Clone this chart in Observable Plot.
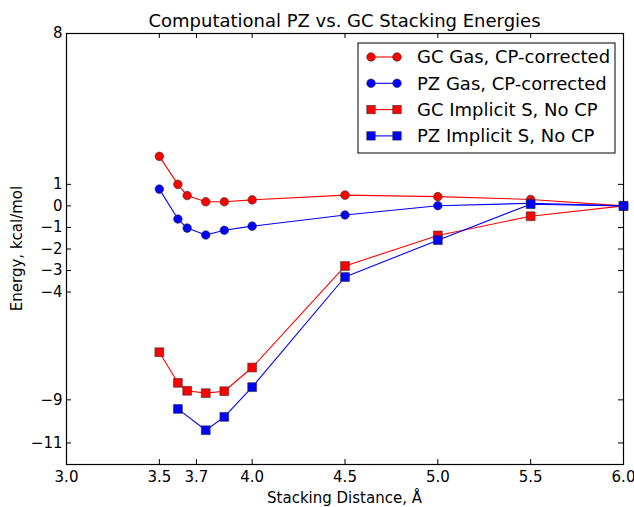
<!DOCTYPE html>
<html><head><meta charset="utf-8">
<script src="https://cdn.jsdelivr.net/npm/d3@7"></script>
<script src="https://cdn.jsdelivr.net/npm/@observablehq/plot@0.6"></script>
<style>body{margin:0;background:#fff;} svg{font-family:"DejaVu Sans",sans-serif;}</style>
</head><body><div id="chart"></div>
<script>
const title = "Computational PZ vs. GC Stacking Energies";
const xLabel = "Stacking Distance, Å";
const yLabel = "Energy, kcal/mol";
const xTicks = [3.0, 3.5, 3.7, 4.0, 4.5, 5.0, 5.5, 6.0];
const yTicks = [8, 1, 0, -1, -2, -3, -4, -9, -11];
const seriesNames = ["GC Gas, CP-corrected", "PZ Gas, CP-corrected", "GC Implicit S, No CP", "PZ Implicit S, No CP"];
const seriesColors = ["#ff0000", "#0000ff", "#ff0000", "#0000ff"];
const seriesSymbols = ["circle", "circle", "square", "square"];
const gasX = [3.5, 3.6, 3.65, 3.75, 3.85, 4.0, 4.5, 5.0, 5.5, 6.0];
const gcGasY = [2.3, 1.0, 0.48, 0.19, 0.19, 0.28, 0.5, 0.43, 0.3, 0];
const pzGasY = [0.78, -0.61, -1.03, -1.35, -1.13, -0.94, -0.42, 0.01, 0.12, 0];
const gcImpX = [3.5, 3.6, 3.65, 3.75, 3.85, 4.0, 4.5, 5.0, 5.5, 6.0];
const gcImpY = [-6.79, -8.21, -8.58, -8.69, -8.6, -7.5, -2.79, -1.37, -0.48, 0];
const pzImpX = [3.6, 3.75, 3.85, 4.0, 4.5, 5.0, 5.5, 6.0];
const pzImpY = [-9.42, -10.41, -9.79, -8.41, -3.3, -1.59, 0.08, 0];

const seriesXs = [gasX, gasX, gcImpX, pzImpX];
const seriesYs = [gcGasY, pzGasY, gcImpY, pzImpY];
const series = seriesNames.map((name, i) => ({
  name, color: seriesColors[i], symbol: seriesSymbols[i],
  data: seriesXs[i].map((x, j) => ({x, y: seriesYs[i][j]}))
}));

const W = 634, H = 507;
const mL = 66, mR = 11, mT = 33, mB = 43;
const innerH = H - mT - mB, innerW = W - mL - mR;
const tickLen = 5;

const marks = [];
// inward ticks
marks.push(Plot.ruleX(xTicks, {x: d => d, insetTop: innerH - tickLen, stroke: "#000", strokeWidth: 1}));
marks.push(Plot.ruleX(xTicks, {x: d => d, insetBottom: innerH - tickLen, stroke: "#000", strokeWidth: 1}));
marks.push(Plot.ruleY(yTicks, {y: d => d, insetRight: innerW - tickLen, stroke: "#000", strokeWidth: 1}));
marks.push(Plot.ruleY(yTicks, {y: d => d, insetLeft: innerW - tickLen, stroke: "#000", strokeWidth: 1}));
for (const s of series) {
  marks.push(Plot.line(s.data, {x: "x", y: "y", stroke: s.color, strokeWidth: 1.1}));
  if (s.symbol === "circle") {
    marks.push(Plot.dot(s.data, {x: "x", y: "y", r: 4.3, fill: s.color, stroke: "#333", strokeWidth: 0.6}));
  } else {
    marks.push(Plot.dot(s.data, {x: "x", y: "y", symbol: "square", r: 5, fill: s.color, stroke: "#333", strokeWidth: 0.6}));
  }
}
marks.push(Plot.frame({stroke: "#000", strokeWidth: 1.2}));
// title, labels, legend
marks.push((index, scales, values, dims) => {
  const g = d3.create("svg:g").attr("font-family", "DejaVu Sans, sans-serif");
  const cx = dims.marginLeft + (dims.width - dims.marginLeft - dims.marginRight) / 2;
  const cy = dims.marginTop + (dims.height - dims.marginTop - dims.marginBottom) / 2;
  g.append("text").attr("x", cx).attr("y", 27).attr("text-anchor", "middle")
    .attr("font-size", 18).attr("fill", "#000").text(title);
  g.append("text").attr("x", cx).attr("y", dims.height - 4).attr("text-anchor", "middle")
    .attr("font-size", 15).attr("fill", "#000").text(xLabel);
  g.append("text").attr("transform", `translate(22,${cy}) rotate(-90)`).attr("text-anchor", "middle")
    .attr("font-size", 15).attr("fill", "#000").text(yLabel);
  const lx = 358, ly = 43, lw = 257, lh = 110;
  g.append("rect").attr("x", lx).attr("y", ly).attr("width", lw).attr("height", lh)
    .attr("fill", "#fff").attr("stroke", "#000").attr("stroke-width", 1);
  series.forEach((s, i) => {
    const yy = 57 + i * 26.3;
    g.append("line").attr("x1", 371).attr("x2", 397).attr("y1", yy).attr("y2", yy)
      .attr("stroke", s.color).attr("stroke-width", 1.1);
    for (const mx of [371, 397]) {
      if (s.symbol === "circle") {
        g.append("circle").attr("cx", mx).attr("cy", yy).attr("r", 4.3)
          .attr("fill", s.color).attr("stroke", "#333").attr("stroke-width", 0.6);
      } else {
        g.append("rect").attr("x", mx - 4.2).attr("y", yy - 4.2).attr("width", 8.4).attr("height", 8.4)
          .attr("fill", s.color).attr("stroke", "#333").attr("stroke-width", 0.6);
      }
    }
    g.append("text").attr("x", 417).attr("y", yy).attr("dy", "0.35em").attr("text-anchor", "start")
      .attr("font-size", 18).attr("fill", "#000").text(s.name);
  });
  return g.node();
});

const chart = Plot.plot({
  width: W, height: H,
  marginLeft: mL, marginRight: mR, marginTop: mT, marginBottom: mB,
  style: {fontFamily: "DejaVu Sans, sans-serif", fontSize: "15px", color: "#000", background: "#fff"},
  x: {domain: [3.0, 6.0], ticks: xTicks, tickSize: 0, tickPadding: 7, tickFormat: d3.format(".1f"), label: null},
  y: {domain: [-12, 8], ticks: yTicks, tickSize: 0, tickPadding: 4, label: null},
  marks
});
document.getElementById("chart").appendChild(chart);
</script>
</body></html>
